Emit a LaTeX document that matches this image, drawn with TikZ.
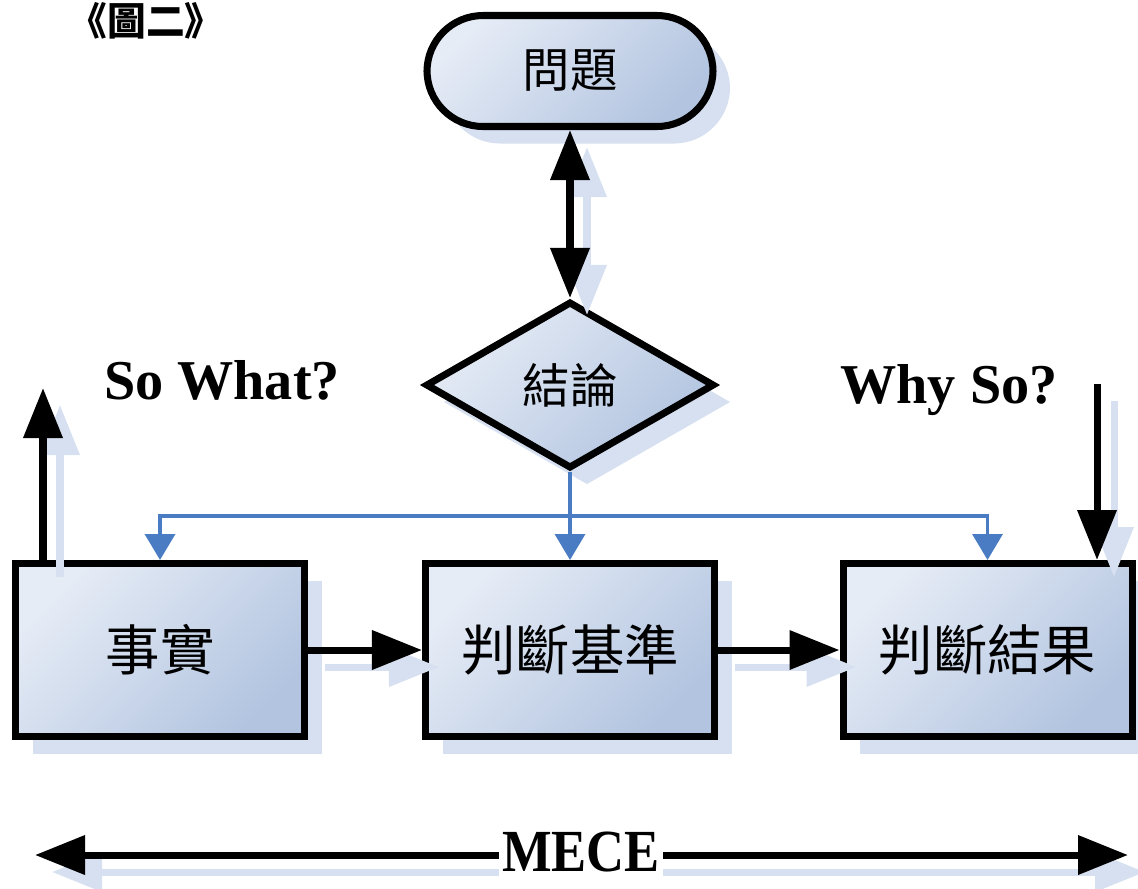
\documentclass[tikz,border=0pt]{standalone}
\usepackage{fontspec}
\usepackage{graphicx}
\setmainfont{Liberation Serif}
\newfontfamily\cjk{Noto Sans CJK TC}
\usetikzlibrary{shapes.geometric,shadows,arrows.meta}

\definecolor{boxlight}{HTML}{E6ECF6}
\definecolor{boxdark}{HTML}{B2C4E0}
\definecolor{shadowblue}{HTML}{D6E0F1}
\definecolor{linkblue}{HTML}{4A7CC4}

\tikzset{
  block/.style={draw=black, line width=2pt, inner sep=0pt,
    top color=boxlight, bottom color=boxdark, shading angle=45,
    general shadow={fill=shadowblue, shadow xshift=0.17cm, shadow yshift=-0.17cm},
    font=\cjk\fontsize{15.5}{18}\selectfont},
  arr/.style={line width=2pt},
  link/.style={draw=linkblue, line width=1pt, -{Triangle[width=0.3cm,length=0.26cm]}},
  label/.style={anchor=base, font=\bfseries\fontsize{16}{19}\selectfont}
}

\begin{document}
\begin{tikzpicture}[>={Triangle[width=0.38cm,length=0.5cm]}]
    \useasboundingbox (0,0) rectangle (11.38,-8.88);

    % the title in the top left corner
    \node[anchor=north west, inner sep=0pt, font=\cjk\bfseries\fontsize{11}{13}\selectfont]
      (title) at (0.68,-0.02) {《圖二》};

    % the question and the conclusion
    \node[block, rounded corners=0.56cm, minimum width=2.86cm, minimum height=1.11cm,
          font=\cjk\fontsize{13.5}{16}\selectfont] (prob) at (5.70,-0.71) {問題};
    \node[block, diamond, minimum width=2.89cm, minimum height=1.67cm,
          font=\cjk\fontsize{13.5}{16}\selectfont] (concl) at (5.70,-3.85) {結論};

    % the three boxes in a row
    \node[block, minimum width=2.89cm, minimum height=1.73cm] (fact) at (1.60,-6.50) {事實};
    \node[block, minimum width=2.89cm, minimum height=1.73cm] (crit) at (5.70,-6.50) {判斷基準};
    \node[block, minimum width=2.89cm, minimum height=1.73cm] (res)  at (9.875,-6.50) {判斷結果};

    % the labels
    \node[label] (sowhat) at (2.22,-3.99) {So What?};
    \node[label] (whyso)  at (9.49,-4.03) {Why So?};

    % free ends of the arrows
    \coordinate (up)    at (0.43,-3.88);
    \coordinate (down)  at (10.97,-3.84);
    \coordinate (mecel) at (0.35,-8.55);
    \coordinate (mecer) at (11.28,-8.55);
    \path (concl.south) -- (crit.north) coordinate[pos=0.5] (split);

    % shadows of the black arrows
    \begin{scope}[transform canvas={shift={(0.17,-0.17)}}, shadowblue]
      \draw[arr,<->] (prob) -- (concl);
      \draw[arr,->] (fact) -- (crit);
      \draw[arr,->] (crit) -- (res);
      \draw[arr,->] (fact.north -| up) -- (up);
      \draw[arr,->] (down) -- (down |- res.north);
      \draw[arr,<->] (mecel) -- (mecer);
    \end{scope}

    % the black arrows
    \draw[arr,<->] (prob) -- (concl);
    \draw[arr,->] (fact) -- (crit);
    \draw[arr,->] (crit) -- (res);
    \draw[arr,->] (fact.north -| up) -- (up);
    \draw[arr,->] (down) -- (down |- res.north);
    \draw[arr,<->] (mecel) -- (mecer);

    % the blue links from the conclusion
    \draw[link] (concl.south) -- (crit.north);
    \foreach \target in {fact,res}
      \draw[link] (split) -| (\target.north);

    % the MECE label over the long arrow
    \node[fill=white, inner sep=1pt, font=\bfseries\fontsize{17}{20}\selectfont]
      (mece) at (5.81,-8.52) {\scalebox{0.88}[1]{MECE}};
\end{tikzpicture}
\end{document}
